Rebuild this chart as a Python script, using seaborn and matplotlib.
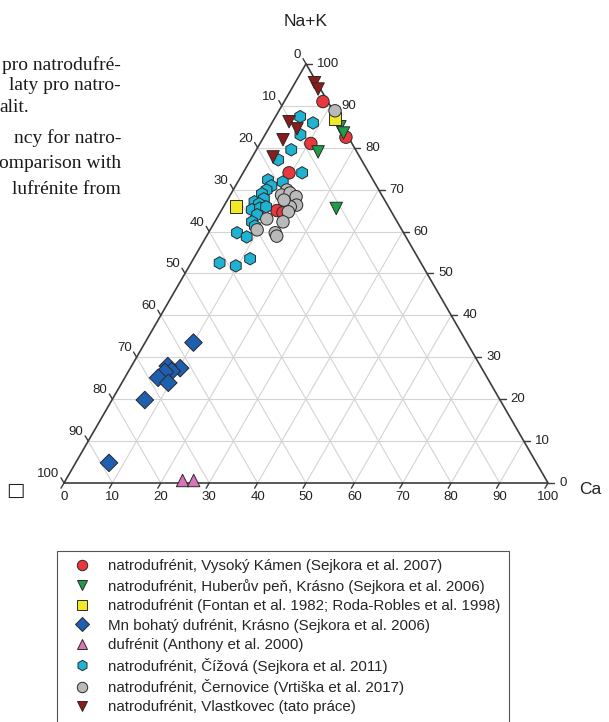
import numpy as np
import pandas as pd
import matplotlib
matplotlib.use('Agg')
import matplotlib.pyplot as plt
from matplotlib.lines import Line2D
import seaborn as sns

# legenda
labels = [
    'natrodufrénit, Vysoký Kámen (Sejkora et al. 2007)',
    'natrodufrénit, Huberův peň, Krásno (Sejkora et al. 2006)',
    'natrodufrénit (Fontan et al. 1982; Roda-Robles et al. 1998)',
    'Mn bohatý dufrénit, Krásno (Sejkora et al. 2006)',
    'dufrénit (Anthony et al. 2000)',
    'natrodufrénit, Čížová (Sejkora et al. 2011)',
    'natrodufrénit, Černovice (Vrtiška et al. 2017)',
    'natrodufrénit, Vlastkovec (tato práce)',
]
colors = ['#e8383d', '#1e9e4a', '#f2e825', '#1f5fb0', '#d874b8', '#1fb3d3', '#b9b9b9', '#8c1b1b']
markers = ['o', 'v', 's', 'D', '^', 'h', 'o', 'v']

# Na+K a Ca v % (zbytek = vakance)
nak_vk = [91, 82.5, 81, 74, 65, 64.5]
ca_vk = [8, 17, 10.5, 9.5, 11.5, 13]

nak_hub = [85, 83.5, 79, 65.5]
ca_hub = [14.5, 16, 13, 23.5]

nak_fon = [87, 66]
ca_fon = [12.5, 2.5]

nak_mn = [33.5, 27.4, 27.9, 26.7, 26.5, 25.1, 23.9, 19.8, 4.8]
ca_mn = [10, 10.3, 7.5, 8.9, 7.6, 6.9, 9.6, 6.8, 6.9]

nak_duf = [0.6, 0.6]
ca_duf = [24.2, 26.5]

nak_ciz = [87.4, 85.9, 83.1, 79.5, 77.1, 74.0, 71.8, 72.3, 70.9, 69.9, 69.0, 67.8, 67.1,
           66.6, 65.2, 65.6, 65.9, 64.0, 62.3, 61.3, 59.7, 58.7, 52.5, 51.8, 53.5]
ca_ciz = [5.1, 8.5, 7.3, 7.2, 5.7, 12.2, 9.3, 6.0, 7.4, 6.9, 6.4, 7.4, 5.8,
          7.0, 6.2, 7.7, 8.8, 7.9, 7.7, 8.8, 5.9, 8.4, 5.9, 9.6, 11.7]

nak_cer = [88.8, 69.9, 68.7, 69.2, 68.3, 66.3, 65.9, 64.7, 67.5, 62.3, 63.0, 60.4, 59.7, 58.9]
ca_cer = [11.6, 11.1, 10.6, 12.1, 13.8, 14.9, 13.8, 14.0, 11.7, 14.1, 10.4, 9.7, 13.8, 14.5]

nak_vla = [95.5, 94, 86.2, 84.5, 81.9, 77.8]
ca_vla = [4, 5.5, 3.4, 5.9, 4.3, 4.3]

ticks = list(range(0, 101, 10))

nak_all = [nak_vk, nak_hub, nak_fon, nak_mn, nak_duf, nak_ciz, nak_cer, nak_vla]
ca_all = [ca_vk, ca_hub, ca_fon, ca_mn, ca_duf, ca_ciz, ca_cer, ca_vla]
frames = []
for lab, n, c in zip(labels, nak_all, ca_all):
    frames.append(pd.DataFrame({'skupina': lab, 'nak': n, 'ca': c}))
df = pd.concat(frames, ignore_index=True)

h = np.sqrt(3) / 2
df['x'] = df['ca'] + df['nak'] / 2
df['y'] = df['nak'] * h

sns.set_style('white')
plt.rcParams['font.family'] = ['Liberation Sans', 'DejaVu Sans']

W, H = 609, 722
S = 4.84          # px na 1 %
X0, Y0 = 64, 483  # levy dolni roh trojuhelniku v px
fig = plt.figure(figsize=(W / 100, H / 100), dpi=100)
ax = fig.add_axes([0, 0, 1, 1])
ax.set_xlim(-X0 / S, (W - X0) / S)
ax.set_ylim(-(H - Y0) / S, Y0 / S)
ax.axis('off')

# mrizka
grid_kw = dict(color='#d4d4d4', lw=0.8, zorder=1)
for v in ticks[1:-1]:
    ax.plot([v / 2, 100 - v / 2], [v * h, v * h], **grid_kw)
    ax.plot([v, v + (100 - v) / 2], [0, (100 - v) * h], **grid_kw)
    ax.plot([100 - v, (100 - v) / 2], [0, (100 - v) * h], **grid_kw)

# obrys
ax.plot([0, 100, 50, 0], [0, 0, 100 * h, 0], color='#3c3c3c', lw=1.2, zorder=2)

L = 6 / S
tk = dict(color='#3c3c3c', lw=1.0, zorder=2)
fs_tick = 9.5
for v in ticks:
    # Ca - spodni osa
    ax.plot([v, v - 0.5 * L], [0, -h * L], **tk)
    ax.text(v, -14 / S, str(v), ha='center', va='center', fontsize=fs_tick, color='#222')
    # Na+K - prava osa
    xr, yr = 100 - v / 2, v * h
    ax.plot([xr, xr + L], [yr, yr], **tk)
    ax.text(xr + 11 / S, yr, str(v), ha='left', va='center', fontsize=fs_tick, color='#222')
    # vakance - leva osa
    xl, yl = (100 - v) / 2, (100 - v) * h
    ax.plot([xl, xl - 0.5 * L], [yl, yl + h * L], **tk)
    ax.text(xl - 5 / S, yl + 9 / S, str(v), ha='right', va='center', fontsize=fs_tick, color='#222')

ax.text(50, 100 * h + 42 / S, 'Na+K', ha='center', va='center', fontsize=12.5, color='#222')
ax.text(100 + 42 / S, -7 / S, 'Ca', ha='center', va='center', fontsize=12.5, color='#222')
ax.text(-49 / S, -7 / S, '□', ha='center', va='center', fontsize=14, color='#222',
        family='DejaVu Sans')

pal = dict(zip(labels, colors))
mk = dict(zip(labels, markers))
sns.scatterplot(data=df, x='x', y='y', hue='skupina', style='skupina', palette=pal,
                markers=mk, s=80, edgecolor='#2a2a2a', linewidth=0.7, legend=False,
                ax=ax, zorder=3)

handles = [Line2D([], [], ls='none', marker=m, markersize=7.5, markerfacecolor=c,
                  markeredgecolor='#2a2a2a', markeredgewidth=0.7)
           for m, c in zip(markers, colors)]
leg = fig.legend(handles, labels, loc='upper left', bbox_to_anchor=(57 / W, 1 - 551 / H),
                 borderaxespad=0, fontsize=10.9, handlelength=2.2, handletextpad=0.62,
                 borderpad=0.55, labelspacing=0.36, fancybox=False, framealpha=1)
leg.get_frame().set_edgecolor('#555555')
leg.get_frame().set_linewidth(0.8)

# zbytek textu clanku vlevo
serif = ['Liberation Serif', 'DejaVu Serif']
for txt, y in [('pro natrodufré-', 65), ('laty pro natro-', 86),
               ('ncy for natro-', 138), ('omparison with', 164), ('lufrénite from', 190)]:
    fig.text(121 / W, 1 - y / H, txt, ha='right', va='center', fontsize=14, family=serif,
             color='#1a1a1a')
fig.text(-1 / W, 1 - 107 / H, 'alit.', ha='left', va='center', fontsize=14, family=serif,
         color='#1a1a1a')

fig.savefig('out.png', dpi=100)
